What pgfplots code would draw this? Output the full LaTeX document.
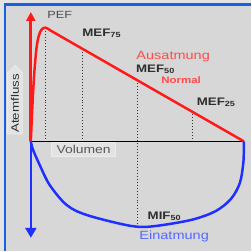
\documentclass[border=0pt]{standalone}
\usepackage{pgfplots}
\pgfplotsset{compat=1.18}
\usepackage{fontspec}
\setmainfont{Liberation Sans}
\usetikzlibrary{arrows.meta,shapes.symbols}
\definecolor{bg}{HTML}{D7D7D7}
\definecolor{bgout}{HTML}{E3E3E3}
\definecolor{bord}{HTML}{1A5FE0}
\definecolor{myred}{HTML}{FF1A1A}
\definecolor{lred}{HTML}{FF4A4A}
\definecolor{myblue}{HTML}{1F2FFF}
\definecolor{lblue}{HTML}{5468FF}
\definecolor{txt}{HTML}{2E2E2E}
\newcommand{\wide}[1]{\scalebox{1.22}[1]{#1}}
\begin{document}
\begin{tikzpicture}
\begin{axis}[
  width=252bp, height=252bp, scale only axis,
  xmin=-31, xmax=221, ymin=-110, ymax=142,
  axis lines=none, clip=false,
]
% backgrounds
\fill[bgout] (axis cs:-31,-110) rectangle (axis cs:221,142);
\fill[bg] (axis cs:-26,-110) rectangle (axis cs:221,137.5);
\draw[bord, line width=2.5bp] (axis cs:-26,-110) -- (axis cs:-26,137.5) -- (axis cs:221,137.5);
% Atemfluss label
\node[signal, signal to=east, rotate=90, fill=bgout, draw=white!85!gray, line width=0.6bp,
      inner sep=1.5bp, minimum height=15bp, text=txt, font=\fontsize{11}{12}\selectfont]
  at (axis cs:-16,38) {\wide{Atemfluss}};
% Volumen label
\node[fill=bgout, draw=white!85!gray, line width=0.6bp, inner sep=1.5bp, text=txt!80!white,
      font=\fontsize{11.5}{12}\selectfont, minimum width=64bp, minimum height=14bp]
  at (axis cs:53,-8) {\wide{Volumen}};
% horizontal axis
\addplot[black, line width=1bp] coordinates {(0,0) (214,0)};
% dotted lines
\addplot[black!80, line width=1bp, dash pattern=on 1bp off 2bp] coordinates {(15,114) (15,0)};
\addplot[black!80, line width=1bp, dash pattern=on 1bp off 2bp] coordinates {(52,93) (52,0)};
\addplot[black!80, line width=1bp, dash pattern=on 1bp off 2bp] coordinates {(107,61.5) (107,-86)};
\addplot[black!80, line width=1bp, dash pattern=on 1bp off 2bp] coordinates {(162,30) (162,0)};
% arrows
\addplot[myred, line width=3bp, -{Triangle[width=9bp,length=9bp]}] coordinates {(0,0) (0,130)};
\addplot[myblue, line width=2.5bp, -{Triangle[width=11bp,length=10bp]}] coordinates {(0,0) (0,-97)};
% red expiration curve
\addplot[myred, line width=2.5bp, smooth, tension=0.6] coordinates {
 (0,0) (1.2,28) (3,62) (5.5,92) (8,106) (11,112.5) (15,114.2) (19,111.8)};
\addplot[myred, line width=2.5bp] coordinates {(18.8,111.9) (214,0)};
% blue inspiration curve
\addplot[myblue, line width=2.5bp, smooth, tension=0.55] coordinates {
 (0,0) (2,-8) (9,-24) (19,-44) (36,-64) (56,-74) (95,-84) (115,-86)
 (140,-83) (165,-78) (186,-70) (201,-58) (210,-42) (213.5,-22) (214,-8) (214,0)};
% labels
\node[text=txt!85!white, font=\fontsize{10.5}{12}\selectfont] at (axis cs:29,127) {\wide{PEF}};
\node[text=txt, font=\fontsize{11}{12}\selectfont\bfseries] at (axis cs:71,109)
  {\wide{MEF\raisebox{-1bp}{\fontsize{7.5}{8}\selectfont 75}}};
\node[text=lred, font=\fontsize{12}{14}\selectfont] at (axis cs:143,85) {\wide{Ausatmung}};
\node[text=txt, font=\fontsize{11}{12}\selectfont\bfseries] at (axis cs:125,72)
  {\wide{MEF\raisebox{-1bp}{\fontsize{7.5}{8}\selectfont 50}}};
\node[text=lred, font=\fontsize{9.5}{10}\selectfont\bfseries] at (axis cs:151,61) {\wide{Normal}};
\node[text=txt, font=\fontsize{11}{12}\selectfont\bfseries] at (axis cs:186,39)
  {\wide{MEF\raisebox{-1bp}{\fontsize{7.5}{8}\selectfont 25}}};
\node[text=txt, font=\fontsize{11}{12}\selectfont\bfseries] at (axis cs:134,-75)
  {\wide{MIF\raisebox{-1bp}{\fontsize{7.5}{8}\selectfont 50}}};
\node[text=lblue, font=\fontsize{12}{14}\selectfont] at (axis cs:144,-96) {\wide{Einatmung}};
\end{axis}
\end{tikzpicture}
\end{document}
